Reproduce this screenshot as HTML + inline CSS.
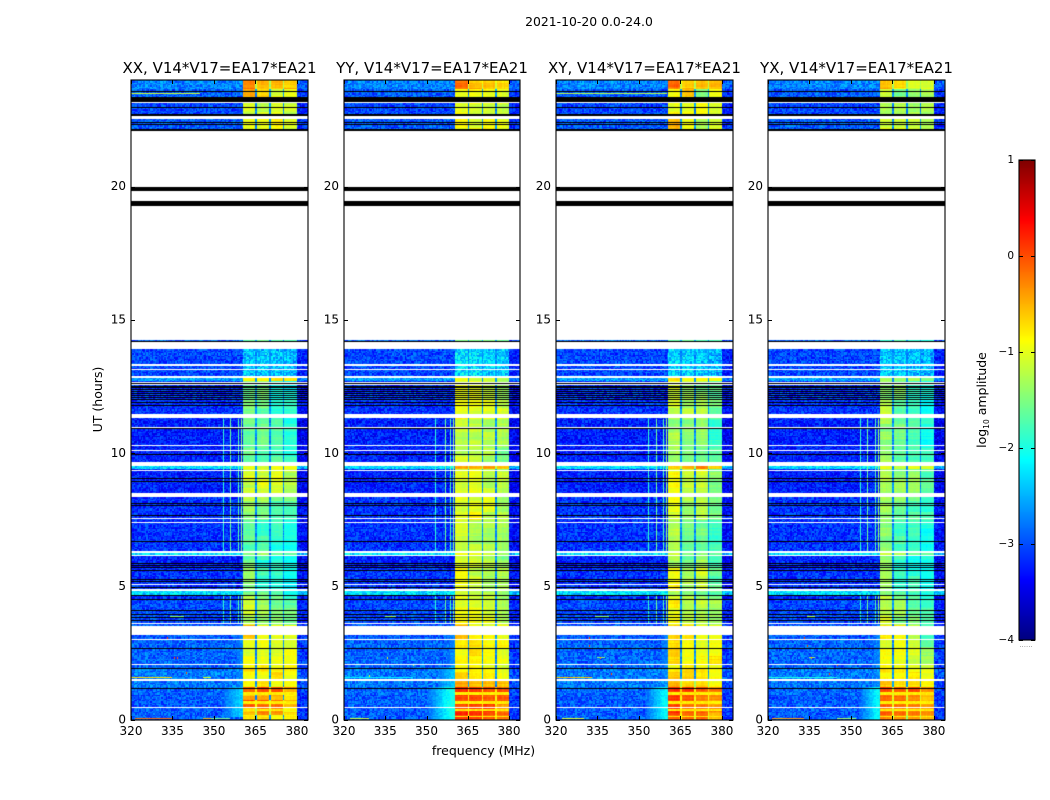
<!DOCTYPE html>
<html lang="en">
<head>
<meta charset="utf-8">
<title>2021-10-20 0.0-24.0</title>
<style>
html,body{margin:0;padding:0;background:#fff;}
#stage{position:relative;width:1050px;height:800px;overflow:hidden;background:#fff;font-family:"DejaVu Sans","Liberation Sans",sans-serif;}
canvas{position:absolute;display:block;}
svg{position:absolute;left:0;top:0;}
svg text{font-family:"DejaVu Sans","Liberation Sans",sans-serif;fill:#000;}
</style>
</head>
<body>
<div id="stage">
<canvas id="heat-xx"></canvas>
<canvas id="heat-yy"></canvas>
<canvas id="heat-xy"></canvas>
<canvas id="heat-yx"></canvas>
<canvas id="cbar"></canvas>
<svg id="over" width="1050" height="800">
<text x="589" y="26" text-anchor="middle" font-size="12.4">2021-10-20 0.0-24.0</text>
<text x="483.5" y="755" text-anchor="middle" font-size="12.5">frequency (MHz)</text>
<text transform="translate(102,399.5) rotate(-90)" text-anchor="middle" font-size="12.5">UT (hours)</text>
<text transform="translate(986,400) rotate(-90)" text-anchor="middle" font-size="12.5">log<tspan font-size="7.5" dy="3">10</tspan><tspan dy="-3"> amplitude</tspan></text>
<text x="1026" y="647" text-anchor="middle" font-size="7" fill="#888" style="fill:#888">......</text>
</svg>
</div>
<script>
// ---- axis ticks ----
const freqTicks = [320, 335, 350, 365, 380];
const hourTicks = [0, 5, 10, 15, 20];
const cbarTicks = [1, 0, -1, -2, -3, -4];
const panelTitles = ["XX, V14*V17=EA17*EA21", "YY, V14*V17=EA17*EA21", "XY, V14*V17=EA17*EA21", "YX, V14*V17=EA17*EA21"];
const panelKeys = ["xx", "yy", "xy", "yx"];

// ---- time segments (start hour) and background log10 amplitude ----
const segStart = [0, .2, .5, .75, .95, 1.25, 1.55, 1.95, 2.4, 2.75, 3.0, 3.54, 4.5, 4.72, 4.84, 5.7, 6.19, 6.26, 7.5, 8.2, 8.52, 9.39, 9.53, 10.3, 11.3, 12.0, 12.68, 12.83, 14.16, 14.25, 22.11, 22.6, 23.18, 23.63];
const segBg = [-2.95, -2.95, -2.95, -2.95, -2.9, -2.8, -2.8, -2.9, -2.9, -2.9, -2.95, -3.05, -3.15, -2.3, -3.15, -3.25, -2.25, -3.15, -3.15, -3.15, -3.25, -2.3, -3.25, -3.25, -3.15, -3.15, -2.6, -3.05, -2.9, -3, -2.95, -3.05, -2.95, -2.75];

// ---- sub-band log10 amplitude for each time segment (4 sub-bands per row) ----
const xxBands = [[-.8,-.7,-.8,-.9],[-.6,-.25,-.25,-.8],[-.1,-.2,-.15,-.45],[-.6,-.6,-.55,-.7],[0,0,-.05,-.3],[-.85,-.85,-.95,-.95],[-.8,-.9,-.8,-.95],[-1,-1,-.95,-1],[-1,-1,-1,-.95],[-.95,-1,-1,-.95],[-.6,-.9,-1.05,-1],[-1.2,-1.4,-1.5,-1.6],[-1.3,-1.6,-1.6,-1.8],[-1.6,-1.7,-1.8,-2],[-1.35,-1.9,-2,-2.1],[-1.6,-1.9,-2,-2.1],[-1.4,-1.5,-1.6,-1.7],[-1.65,-1.8,-1.9,-2],[-1.45,-1.5,-1.65,-1.8],[-1.2,-1.4,-1.4,-1.6],[-1.15,-1.1,-1.1,-1.2],[-1,-1.1,-1,-1],[-1.6,-1.7,-1.7,-1.9],[-1.6,-1.65,-1.75,-1.95],[-1.55,-1.6,-1.85,-1.95],[-1.55,-1.55,-1.95,-2.05],[-.95,-1,-.75,-.7],[-2.4,-2.4,-2.45,-2.5],[-1.6,-1.7,-1.8,-1.8],[-2,-2,-2,-2],[-.85,-1,-.85,-1],[-1.1,-1.2,-1.1,-1.2],[-.6,-.65,-1.1,-1.1],[-.35,-.6,-.65,-.6]];
const yyBands = [[-.05,0,-.05,-.3],[.1,.1,.05,-.2],[.05,.05,0,-.25],[.1,.05,0,-.2],[.15,.1,.05,-.15],[-.5,-.55,-.55,-.6],[-.75,-.8,-.8,-.85],[-.75,-.85,-.95,-.95],[-.8,-.8,-.95,-.95],[-.85,-.65,-.9,-.95],[-.55,-.8,-.95,-1],[-.95,-1,-1.1,-1.25],[-.9,-1.05,-1.15,-1.3],[-1.1,-1.2,-1.3,-1.4],[-.95,-1.15,-1.25,-1.35],[-1,-1.2,-1.3,-1.4],[-.9,-1.1,-1.2,-1.3],[-1.1,-1.2,-1.3,-1.4],[-1.05,-.9,-1.1,-1.3],[-1,-1.05,-1.1,-1.3],[-1.1,-1,-1.15,-1.25],[-.45,-.5,-.35,-.5],[-1.2,-1.25,-1.3,-1.45],[-1.2,-1.25,-1.3,-1.35],[-.9,-1,-.95,-1.1],[-1,-.9,-1.2,-1.35],[-.85,-1.1,-1.2,-1.3],[-2.3,-2.3,-2.35,-2.4],[-1.4,-1.4,-1.5,-1.5],[-2,-2,-2,-2],[-.95,-1,-.9,-1.05],[-1.05,-1.05,-1.1,-1.1],[-.85,-1,-.95,-1],[-.15,-.5,-.65,-.7]];
const xyBands = [[-.2,-.15,-.2,-.5],[.05,-.1,-.15,-.4],[.05,-.05,-.1,-.45],[.05,-.1,-.15,-.4],[.15,0,-.05,-.3],[-.45,-.75,-.7,-.8],[-.7,-.8,-.8,-.85],[-.8,-.9,-.95,-.85],[-.75,-.85,-.95,-.85],[-.75,-.85,-1,-.8],[-.5,-.8,-.95,-.95],[-.9,-1.15,-1.3,-1.4],[-1.1,-1.3,-1.35,-1.6],[-1.3,-1.5,-1.5,-1.7],[-.9,-1.4,-1.1,-1.7],[-1.25,-1.6,-1.4,-1.8],[-1.1,-1.4,-1.4,-1.6],[-1.3,-1.6,-1.6,-1.8],[-1,-1.3,-1.3,-1.6],[-.95,-1.15,-1.3,-1.6],[-1,-1.2,-1.1,-1.5],[-.65,-.6,-.4,-.6],[-1.3,-1.5,-1.5,-1.8],[-1.35,-1.5,-1.4,-1.85],[-1.1,-1.3,-1.3,-1.6],[-1.15,-1.3,-1.5,-1.7],[-.75,-1,-1,-.85],[-2.35,-2.35,-2.4,-2.5],[-1.7,-1.7,-1.7,-1.8],[-2,-2,-2,-2],[-.6,-1,-1.2,-1],[-.9,-1,-.95,-1],[-.85,-.65,-1.6,-.95],[-.25,-.55,-.7,-.6]];
const yxBands = [[-.35,-.3,-.35,-.55],[-.15,-.15,-.2,-.4],[-.05,-.15,-.2,-.45],[-.1,-.2,-.25,-.45],[-.05,-.05,-.1,-.35],[-.7,-.7,-.8,-.9],[-.8,-.85,-.9,-1],[-1,-1,-1.05,-1.2],[-1,-1,-1.1,-1.3],[-.95,-.9,-1.2,-1.6],[-.75,-.85,-1.3,-1.8],[-1.15,-1.4,-1.6,-1.8],[-1.25,-1.6,-1.7,-2],[-1.5,-1.7,-1.8,-2],[-1.35,-1.8,-1.9,-2.1],[-1.5,-1.9,-2,-2.1],[-1.2,-1.4,-1.5,-1.8],[-1.5,-1.8,-1.9,-2],[-1.35,-1.55,-1.7,-1.85],[-1.2,-1.4,-1.5,-1.8],[-1.3,-1.4,-1.4,-1.7],[-1.1,-1.1,-.95,-1.2],[-1.4,-1.7,-1.7,-1.9],[-1.45,-1.65,-1.8,-2],[-1.25,-1.6,-1.8,-2],[-1.35,-1.5,-1.9,-2],[-1.3,-1.3,-1.35,-1.5],[-2.4,-2.4,-2.45,-2.5],[-1.8,-1.8,-1.8,-1.9],[-2,-2,-2,-2],[-1,-1.05,-1.1,-1.2],[-1.3,-1.25,-1.3,-1.3],[-1.2,-1.5,-1.4,-1.4],[-.45,-.75,-1.1,-1.05]];
const bandTable = {xx: xxBands, yy: yyBands, xy: xyBands, yx: yxBands};

// ---- sub-band frequency limits (MHz) ----
const subBandStart = [360.5, 365.6, 370.6, 375.7];
const subBandEnd = [364.9, 369.9, 375.0, 380.0];
const notchLevel = -2.7;

// ---- paler rows crossing the strongest part of the band (hours) ----
const bandStripeHours = [.12, .36, .62, .68, 1.0];
const bandStripeLevel = -.8;

// ---- skirt below the band: tStart, tEnd, fStart (MHz), level at band edge ----
const xxSkirt = [[.1,1.25,353,-2.35],[1.25,3.2,358,-2.7]];
const yySkirt = [[0,1.25,350,-2.0],[1.25,2,354,-2.4],[2,3.2,357,-2.7]];
const xySkirt = [[0,1.25,352,-2.15],[1.25,3.2,358,-2.7]];
const yxSkirt = [[0,1.25,353,-2.15],[1.25,3.2,358,-2.7]];
const skirtTable = {xx: xxSkirt, yy: yySkirt, xy: xySkirt, yx: yxSkirt};

// ---- narrow vertical RFI: channel frequency (MHz) per panel, hour ranges, level ----
const xxRfi = [353.3, 355.8, 358.7, 359.7];
const yyRfi = [353.2, 356.7, 358.5, 359.6];
const xyRfi = [353.3, 356.0, 358.7, 359.6];
const yxRfi = [353.3, 355.8, 358.7, 359.7];
const rfiTable = {xx: xxRfi, yy: yyRfi, xy: xyRfi, yx: yxRfi};
const rfiHours = [[3.6,4.7],[6.34,11.3]];
const rfiLevels = [-1.9, -1.6, -1.7, -1.4];

// ---- horizontal RFI rows: hour, fStart, fEnd, level ----
const xxRows = [[.06,321.5,335,-.15],[.06,346,349,-.5],[.06,349,356,-1.5],[1.6,320,335,-.7],[1.6,346,349,-1],[23.53,320,345,-1.1],[3.9,334,339,-1.5]];
const yyRows = [[.06,322,329,-1.1],[1.6,320,345,-2.2],[3.9,335,339,-1.5]];
const xyRows = [[.06,322,330,-1],[1.6,320,333,-.6],[23.53,320,360,-1.2],[3.9,334,339,-1.5],[2.37,335,338,-1.5]];
const yxRows = [[.06,321.5,333,-.4],[.06,345,352,-1.3],[1.6,320,345,-2],[3.9,334,337,-1.3],[2.37,335,337,-1.4]];
const rowTable = {xx: xxRows, yy: yyRows, xy: xyRows, yx: yxRows};

// ---- isolated hot pixels: hour, MHz, level ----
const xxSpots = [[2.37,335.5,0],[2.37,336.8,-.1],[1.8,340,.1],[3.1,333,.2]];
const yySpots = [[2.37,335.6,-1],[2.1,345,-1.2],[1.7,329,-1.1],[3.9,337,-.6]];
const xySpots = [[2.37,336,-.3],[2.1,340,.2],[1.75,340,.1],[3.1,332,.2],[2.8,332,.3]];
const yxSpots = [[2.37,335.5,-.4],[2.1,345,.3],[1.75,342,.1],[3.1,333,.2],[2.8,334,.2]];
const spotTable = {xx: xxSpots, yy: yySpots, xy: xySpots, yx: yxSpots};

// ---- flagged data: white = missing, black = zero-valued rows (hours) ----
const whiteGaps = [[.44,.48],[1.46,1.54],[2.05,2.09],[2.99,3.03],[3.2,3.54],[3.61,3.65],[4.84,4.91],[5.06,5.1],[6.15,6.19],[6.26,6.34],[7.39,7.43],[7.52,7.56],[8.37,8.52],[9.36,9.39],[9.53,9.68],[10.09,10.13],[10.28,10.31],[10.95,10.99],[11.34,11.49],[12.56,12.6],[12.64,12.68],[12.83,12.9],[13.13,13.16],[13.28,13.35],[13.91,14.16],[14.25,22.11],[22.54,22.61],[22.62,22.7],[23.14,23.18]];
const blackBands = [[19.28,19.46],[19.82,19.97],[22.09,22.16],[23.18,23.35],[23.55,23.6]];
const blackLines = [1.2,1.95,2.7,3.75,3.86,3.975,4.125,4.54,4.69,4.99,5.21,5.29,5.62,5.74,5.81,5.89,6.71,7.69,8.06,8.14,8.96,9.07,9.98,10.95,11.81,11.93,12.04,12.11,12.19,12.26,12.34,12.41,12.49,12.54,12.62,14.2,22.36,22.43,22.69,22.74,22.98];

// ---- hand-set pixel-noise table (texture only) ----
const speckle = [.4,-.7,.1,.9,-.3,-.9,.6,.2,-.5,.8,-.1,.3,-.8,.5,-.4,1,-.6,.0,.7,-.2,.35,-.95,.55,-.15,.85,-.45,.15,-.75,.65,.05,-.55,.95,-.25,.45,-.85,.25,.75,-.35,-.65,.1,.5,-1,.3,-.05,.9,-.5,.2,.6,-.7,.4,-.2,.8,-.9,0,.7,-.4,.15,-.6,1,-.3,.55,-.8,.35,-.1,.65,-.45,.85,-.25,.05,-.75,.45,.95,-.55,.25,-.15,.75,-.95,.6,-.35,.1,-.65,.3,.9,-.85,.5,-.05,.7,-.5,.2,.4,-.3,.8,-.6,-.2,1,-.7,.0];

// ---- geometry / axis functions ----
const axisTop = 80, axisBottom = 720, hourMax = 24, freqMin = 320, freqMax = 384;
const panelLeft = {xx:131, yy:344, xy:556, yx:768};
const panelWidth = {xx:177, yy:176, xy:177, yx:177};
const channelCount = 128, rowCount = 480;
function yOf(hour){ return axisBottom - (hour / hourMax) * (axisBottom - axisTop); }
function xOf(key, mhz){ return (mhz - freqMin) / (freqMax - freqMin) * panelWidth[key]; }
function jet(v){
  const t = Math.max(0, Math.min(1, (v + 4) / 5));
  const ramp = function(x){ return Math.round(255 * Math.max(0, Math.min(1, 1.5 - Math.abs(4 * x)))); };
  return 'rgb(' + ramp(t - .75) + ',' + ramp(t - .5) + ',' + ramp(t - .25) + ')';
}
function segIndex(h){
  let k = 0;
  for (let i = 0; i < segStart.length; i++){ if (h >= segStart[i]) k = i; }
  return k;
}
function drawHeat(key, panelIdx){
  const cv = document.getElementById('heat-' + key);
  const w = panelWidth[key], left = panelLeft[key];
  cv.width = w; cv.height = axisBottom - axisTop;
  cv.style.left = left + 'px'; cv.style.top = axisTop + 'px';
  const g = cv.getContext('2d');
  g.fillStyle = '#fff'; g.fillRect(0, 0, w, cv.height);
  const bands = bandTable[key], skirt = skirtTable[key];
  const L = speckle.length;
  for (let r = 0; r < rowCount; r++){
    const h = (r + .5) * hourMax / rowCount, s = segIndex(h), bg = segBg[s];
    const y1 = Math.round(yOf(r * hourMax / rowCount) - axisTop);
    const y0 = Math.round(yOf((r + 1) * hourMax / rowCount) - axisTop);
    const rowJit = speckle[(r * 23 + panelIdx * 5) % L];
    const noisy = h > 12.9 && h < 14.2;
    const stripe = bandStripeHours.some(function(q){ return Math.abs(q - h) < .026; });
    let sk = null;
    skirt.forEach(function(q){ if (h >= q[0] && h < q[1]) sk = q; });
    const peak = Math.max.apply(null, bands[s]);
    for (let c = 0; c < channelCount; c++){
      const f = freqMin + (c + .5) * (freqMax - freqMin) / channelCount;
      const n = speckle[(c * c * 7 + r * r * 13 + c * r * 3 + panelIdx * 11) % L];
      let v;
      if (f > subBandStart[0] && f < subBandEnd[3]){
        let b = -1;
        for (let i = 0; i < 4; i++){ if (f >= subBandStart[i] && f <= subBandEnd[i]) b = i; }
        if (b < 0){
          v = (peak > -.5 ? peak - .9 : notchLevel) + n * .2;
        } else if (noisy){
          v = bands[s][b] + n * .4;
        } else {
          const block = speckle[(Math.floor(r / 6) * 29 + b * 17 + panelIdx * 3) % L];
          const chan = speckle[(c * 13 + panelIdx) % L];
          v = bands[s][b] + n * .05 + rowJit * .07 + block * .13 + chan * .05;
          if (stripe && bands[s][b] > bandStripeLevel) v = bandStripeLevel + n * .08;
        }
      } else {
        v = bg + n * .34 + (f > 380 ? -.2 : 0);
        if (sk && f < 361 && f > sk[2]){
          const p = (f - sk[2]) / (360.5 - sk[2]);
          v = Math.max(v, bg + (sk[3] - bg) * Math.min(1, p * 1.2) + n * .14);
        }
      }
      g.fillStyle = jet(v);
      const x0 = Math.round(xOf(key, freqMin + c * (freqMax - freqMin) / channelCount));
      const x1 = Math.round(xOf(key, freqMin + (c + 1) * (freqMax - freqMin) / channelCount));
      g.fillRect(x0, y0, x1 - x0, y1 - y0);
    }
  }
  // vertical RFI channels
  rfiTable[key].forEach(function(f, i){
    g.fillStyle = jet(rfiLevels[i]);
    rfiHours.forEach(function(t){
      const y0 = yOf(t[1]) - axisTop, y1 = yOf(t[0]) - axisTop;
      g.fillRect(Math.round(xOf(key, f)), y0, 1, y1 - y0);
    });
  });
  // horizontal RFI rows
  rowTable[key].forEach(function(q){
    g.fillStyle = jet(q[3]);
    g.fillRect(Math.round(xOf(key, q[1])), Math.round(yOf(q[0]) - axisTop), Math.round(xOf(key, q[2]) - xOf(key, q[1])), 1);
  });
  // hot pixels
  spotTable[key].forEach(function(q){
    g.fillStyle = jet(q[2]);
    g.fillRect(Math.round(xOf(key, q[1])), Math.round(yOf(q[0]) - axisTop), 1, 2);
  });
  // flags
  g.fillStyle = '#fff';
  whiteGaps.forEach(function(q){
    const a = Math.round(yOf(q[1]) - axisTop), b = Math.round(yOf(q[0]) - axisTop);
    g.fillRect(0, a, w, Math.max(1, b - a));
  });
  g.fillStyle = '#000';
  blackBands.forEach(function(q){
    const a = Math.round(yOf(q[1]) - axisTop), b = Math.round(yOf(q[0]) - axisTop);
    g.fillRect(0, a, w, Math.max(1, b - a));
  });
  blackLines.forEach(function(h){
    g.fillRect(0, Math.round(yOf(h) - axisTop), w, 1);
  });
}
panelKeys.forEach(drawHeat);

// ---- colorbar ----
const cbarLeft = 1019, cbarWidth = 16, cbarTop = 160, cbarBottom = 640, cbarMin = -4, cbarMax = 1;
function cbarY(v){ return cbarBottom - (v - cbarMin) / (cbarMax - cbarMin) * (cbarBottom - cbarTop); }
(function(){
  const cv = document.getElementById('cbar');
  cv.width = cbarWidth; cv.height = cbarBottom - cbarTop;
  cv.style.left = cbarLeft + 'px'; cv.style.top = cbarTop + 'px';
  const g = cv.getContext('2d');
  for (let y = 0; y < cv.height; y++){
    g.fillStyle = jet(cbarMax - (y + .5) / cv.height * (cbarMax - cbarMin));
    g.fillRect(0, y, cbarWidth, 1);
  }
})();

// ---- SVG axes ----
const NS = 'http://www.w3.org/2000/svg';
const over = document.getElementById('over');
function line(x1, y1, x2, y2, parent){
  const el = document.createElementNS(NS, 'line');
  el.setAttribute('x1', x1); el.setAttribute('y1', y1);
  el.setAttribute('x2', x2); el.setAttribute('y2', y2);
  el.setAttribute('stroke', '#000'); el.setAttribute('stroke-width', '1');
  parent.appendChild(el);
  return el;
}
function label(str, x, y, size, anchor, parent){
  const el = document.createElementNS(NS, 'text');
  el.setAttribute('x', x); el.setAttribute('y', y);
  el.setAttribute('font-size', size); el.setAttribute('text-anchor', anchor);
  el.textContent = str;
  parent.appendChild(el);
  return el;
}
panelKeys.forEach(function(key, i){
  const L = panelLeft[key], W = panelWidth[key];
  const grp = document.createElementNS(NS, 'g');
  
  
  over.appendChild(grp);
  const title = label(panelTitles[i], L + W / 2, 73, 15, 'middle', grp);
  
  
  freqTicks.forEach(function(f){
    const x = Math.round(L + xOf(key, f)) + .5;
    const t1 = line(x, axisBottom, x, axisBottom - 4, grp);
    
    
    const t2 = line(x, axisTop, x, axisTop + 4, grp);
    
    
    const tx = label(String(f), L + xOf(key, f), 735, 12, 'middle', grp);
    
    
  });
  hourTicks.forEach(function(h){
    const y = Math.round(yOf(h)) + .5;
    const t1 = line(L, y, L + 4, y, grp);
    
    
    const t2 = line(L + W, y, L + W - 4, y, grp);
    
    
    const ty = label(String(h), L - 5, yOf(h) + 3.5, 12, 'end', grp);
    
    
  });
  const frame = document.createElementNS(NS, 'rect');
  frame.setAttribute('x', L); frame.setAttribute('y', axisTop);
  frame.setAttribute('width', W); frame.setAttribute('height', axisBottom - axisTop);
  frame.setAttribute('fill', 'none'); frame.setAttribute('stroke', '#000'); frame.setAttribute('stroke-width', '1.1');
  
  
  grp.appendChild(frame);
});
const cbGroup = document.createElementNS(NS, 'g');


over.appendChild(cbGroup);
cbarTicks.forEach(function(v){
  const y = Math.round(cbarY(v)) + .5;
  const a = line(cbarLeft, y, cbarLeft + 4, y, cbGroup);
  
  
  const b = line(cbarLeft + cbarWidth, y, cbarLeft + cbarWidth - 4, y, cbGroup);
  
  
  const t = label(String(v).replace('-', '\u2212'), cbarLeft - 5, cbarY(v) + 3, 10.5, 'end', cbGroup);
  
  
});
const cbFrame = document.createElementNS(NS, 'rect');
cbFrame.setAttribute('x', cbarLeft); cbFrame.setAttribute('y', cbarTop);
cbFrame.setAttribute('width', cbarWidth); cbFrame.setAttribute('height', cbarBottom - cbarTop);
cbFrame.setAttribute('fill', 'none'); cbFrame.setAttribute('stroke', '#000'); cbFrame.setAttribute('stroke-width', '1.1');


cbGroup.appendChild(cbFrame);
</script>
</body>
</html>
